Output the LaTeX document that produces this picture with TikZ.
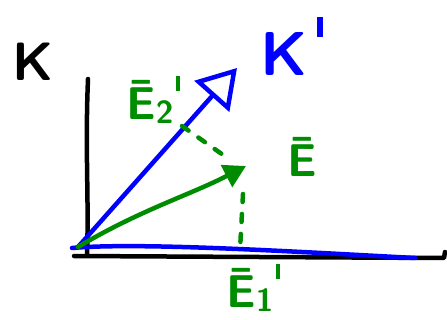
\documentclass[tikz,border=0pt]{standalone}
\usepackage{xcolor}
\usepackage{tikz}
\usetikzlibrary{arrows.meta}
\definecolor{penblue}{RGB}{0,0,255}
\definecolor{pengreen}{RGB}{0,140,0}
\newcommand{\pstroke}{\raisebox{0.62em}{\rule{0.1em}{0.32em}}}
\newcommand{\lowidx}[1]{\raisebox{-0.1em}{\fontsize{32}{34}\selectfont #1}}

\begin{document}
\begin{tikzpicture}[x=1pt,y=-1pt,line width=4.5pt,line cap=round,line join=round,
    hand/.style={inner sep=0pt,font=\fontsize{46}{50}\selectfont\sffamily\bfseries},
    bighand/.style={inner sep=0pt,font=\fontsize{62}{66}\selectfont\sffamily\bfseries},
    proj/.style={pengreen,dash pattern=on 8pt off 12pt}]
  \useasboundingbox (0,0) rectangle (447,320);
  % points
  \coordinate (O) at (78,247);
  \coordinate (ytop) at (88,79);
  \coordinate (ybot) at (87,254);
  \coordinate (xend) at (444,258);
  \coordinate (xtick) at (445,252);
  \coordinate (blend) at (415,258);
  \coordinate (Kt) at (237,68);
  \coordinate (Et) at (246,166);
  \coordinate (P2) at (182,126);
  \coordinate (P1) at (240,250);
  % axes of K
  \draw[black] (ytop) .. controls (85,150) and (89,200) .. (ybot);
  \draw[black] (74,256) -- (xend) -- (xtick);
  % axes of K'
  \draw[penblue] (72,248) .. controls (140,242) and (300,252) .. (blend);
  \draw[penblue,-{Triangle[open,length=38pt,width=46pt,line width=4.5pt]}] (O) -- (Kt);
  % vector E
  \draw[pengreen,-{Triangle[length=22pt,width=24pt]}] (O) .. controls (140,210) and (190,195) .. (Et);
  % projections
  \draw[proj] (P2) -- (226,157);
  \draw[proj] (243,194) -- (P1);
  % labels
  \node[inner sep=0pt,font=\fontsize{54}{58}\selectfont\sffamily\bfseries,black] (lK) at (33,62) {K};
  \node[bighand,penblue,anchor=west] (lKp) at (258,46) {K\hspace{0.15em}\pstroke};
  \node[hand,pengreen,anchor=west] (lE2) at (124,100) {Ē\lowidx{2}\hspace{0.05em}\pstroke};
  \node[hand,pengreen] (lE) at (302,157) {Ē};
  \node[hand,pengreen,anchor=west] (lE1) at (224,288) {Ē\lowidx{1}\hspace{0.05em}\pstroke};
\end{tikzpicture}
\end{document}
